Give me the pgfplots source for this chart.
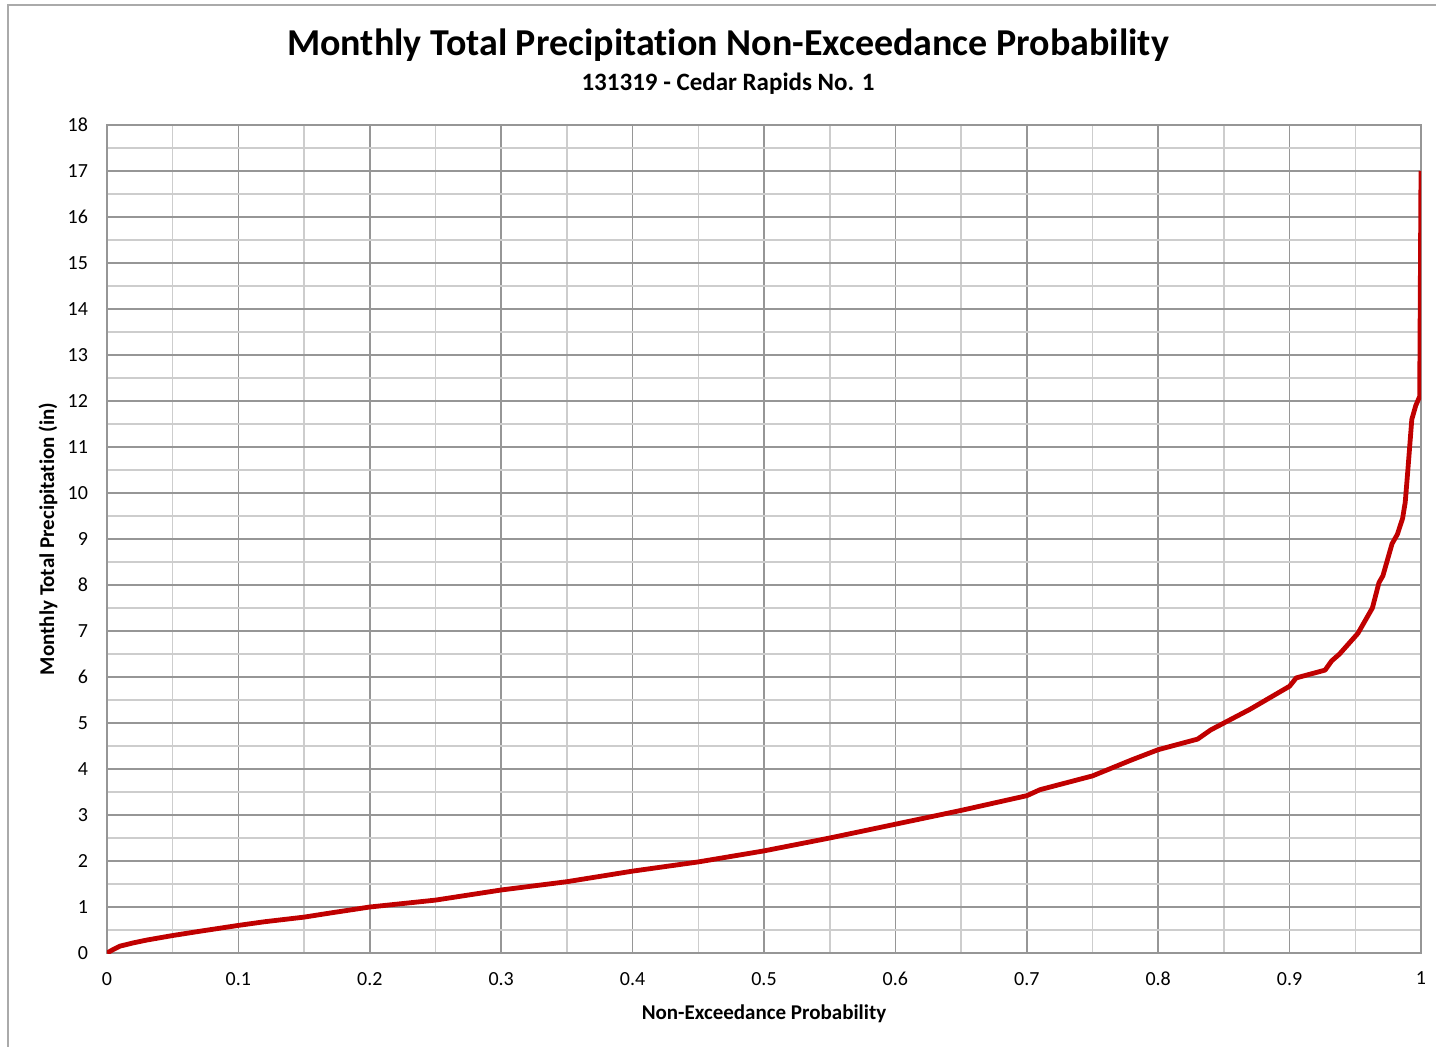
\documentclass[border=0pt]{standalone}
\usepackage{pgfplots}
\pgfplotsset{compat=1.18}
\usepackage{fontspec}
\setmainfont[Ligatures=NoCommon]{Carlito}
\definecolor{majorc}{RGB}{150,150,150}
\definecolor{minorc}{RGB}{205,205,205}
\definecolor{framec}{RGB}{170,170,170}
\definecolor{curvec}{RGB}{192,0,0}
\begin{document}
\begin{tikzpicture}
\path[use as bounding box] (0pt,0pt) rectangle (718pt,523pt);
\draw[framec, line width=1pt] (4pt,-3pt) -- (4pt,520.5pt) -- (721pt,520.5pt);
\node[font=\bfseries\fontsize{19}{22}\selectfont] at (364pt,500.5pt) {Monthly Total Precipitation Non-Exceedance Probability};
\node[font=\bfseries\fontsize{12.5}{14}\selectfont] at (364pt,481pt) {131319 - Cedar Rapids No. 1};
\begin{axis}[
  at={(53.5pt,46.5pt)}, anchor=south west,
  scale only axis, width=657pt, height=414pt,
  xmin=0, xmax=1, ymin=0, ymax=18,
  xtick={0,0.1,0.2,0.3,0.4,0.5,0.6,0.7,0.8,0.9,1},
  xticklabels={0,0.1,0.2,0.3,0.4,0.5,0.6,0.7,0.8,0.9,1},
  minor xtick={0.05,0.15,0.25,0.35,0.45,0.55,0.65,0.75,0.85,0.95},
  ytick={0,1,...,18},
  minor ytick={0.5,1.5,...,17.5},
  grid=both,
  major grid style={majorc, line width=0.8pt},
  minor grid style={minorc, line width=0.8pt},
  axis line style={majorc, line width=0.8pt},
  tick style={draw=none},
  ticklabel style={font=\fontsize{10}{12}\selectfont},
  /pgf/number format/assume math mode=true,
  xticklabel style={anchor=north, yshift=-6pt},
  yticklabel style={anchor=east, xshift=-6pt},
  xlabel={Non-Exceedance Probability},
  ylabel={Monthly Total Precipitation (in)},
  xlabel style={font=\bfseries\fontsize{10.5}{12}\selectfont, at={(axis description cs:0.5,-0.0737)}, anchor=center},
  ylabel style={font=\bfseries\fontsize{10.5}{12}\selectfont, at={(axis description cs:-0.0449,0.5)}, anchor=center},
]
\addplot[curvec, line width=2.4pt, line join=round] coordinates {
(0,0) (0.005,0.08) (0.01,0.15) (0.02,0.22) (0.03,0.28) (0.04,0.33) (0.05,0.38)
(0.07,0.47) (0.1,0.6) (0.12,0.68) (0.15,0.78) (0.17,0.87) (0.2,1.0) (0.25,1.15)
(0.3,1.37) (0.35,1.55) (0.4,1.78) (0.45,1.98) (0.5,2.22) (0.55,2.5) (0.6,2.8)
(0.65,3.1) (0.7,3.42) (0.71,3.55) (0.75,3.85) (0.78,4.2) (0.8,4.42) (0.83,4.65)
(0.84,4.85) (0.85,5.0) (0.87,5.3) (0.9,5.8) (0.905,5.98) (0.927,6.15) (0.932,6.35)
(0.938,6.5) (0.952,6.95) (0.958,7.25) (0.963,7.5) (0.968,8.05) (0.971,8.2)
(0.976,8.7) (0.978,8.9) (0.982,9.1) (0.986,9.45) (0.988,9.8) (0.990,10.5)
(0.993,11.6) (0.996,11.9) (0.999,12.1) (1.0,17.0)
};
\end{axis}
\end{tikzpicture}
\end{document}
